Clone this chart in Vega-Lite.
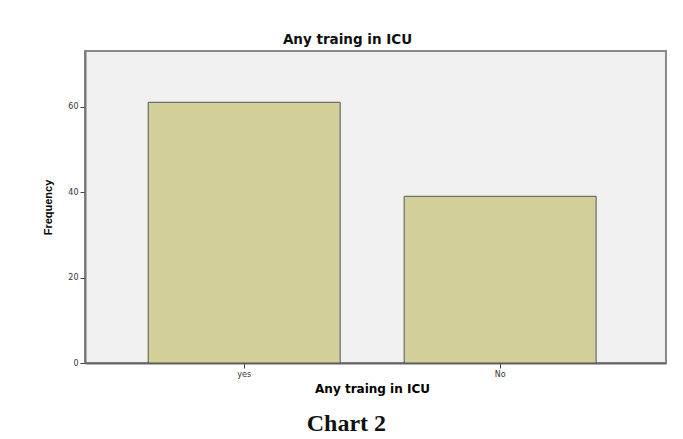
{
  "$schema": "https://vega.github.io/schema/vega-lite/v6.json",
  "background": "#ffffff",
  "padding": {"left": 41, "top": 31, "right": 18, "bottom": 3},
  "title": {"text": "Chart 2", "orient": "bottom", "font": "Liberation Serif", "fontSize": 24, "fontWeight": "bold", "color": "#111111", "offset": 17, "anchor": "middle", "dx": -8},
  "vconcat": [
    {
      "width": 581,
      "height": 312,
      "title": {"text": "Any traing in ICU", "font": "DejaVu Sans", "fontSize": 13.5, "fontWeight": "bold", "color": "#111111", "offset": 5, "dx": -28},
      "data": {"values": [
        {"training": "yes", "frequency": 61},
        {"training": "No", "frequency": 39}
      ]},
      "mark": {"type": "bar", "fill": "#d3cf98", "stroke": "#555555", "strokeWidth": 1},
      "encoding": {
        "x": {
          "field": "training", "type": "nominal", "sort": ["yes", "No"],
          "scale": {"paddingInner": 0.25, "paddingOuter": 0.26, "align": 0.475},
          "axis": {"title": "Any traing in ICU", "labelAngle": 0, "labelFont": "DejaVu Sans", "labelFontSize": 8, "labelColor": "#333333", "titleFont": "DejaVu Sans", "titleFontSize": 12, "titleFontWeight": "bold", "titleColor": "#000000", "domainColor": "#666666", "domainWidth": 2, "tickColor": "#444444", "tickSize": 5, "labelPadding": 2, "titlePadding": 5, "titleX": 287}
        },
        "y": {
          "field": "frequency", "type": "quantitative",
          "scale": {"domain": [0, 73], "nice": false},
          "axis": {"title": "Frequency", "values": [0, 20, 40, 60], "grid": false, "labelFont": "DejaVu Sans", "labelFontSize": 8, "labelColor": "#333333", "titleFont": "Liberation Sans", "titleFontSize": 11, "titleFontWeight": "bold", "titleColor": "#000000", "domainColor": "#777777", "domainWidth": 2, "tickColor": "#444444", "tickSize": 5, "labelPadding": 2, "titlePadding": 14}
        }
      }
    }
  ],
  "config": {
    "view": {"fill": "#f0f0f0", "stroke": "#8a8a8a", "strokeWidth": 2}
  }
}
